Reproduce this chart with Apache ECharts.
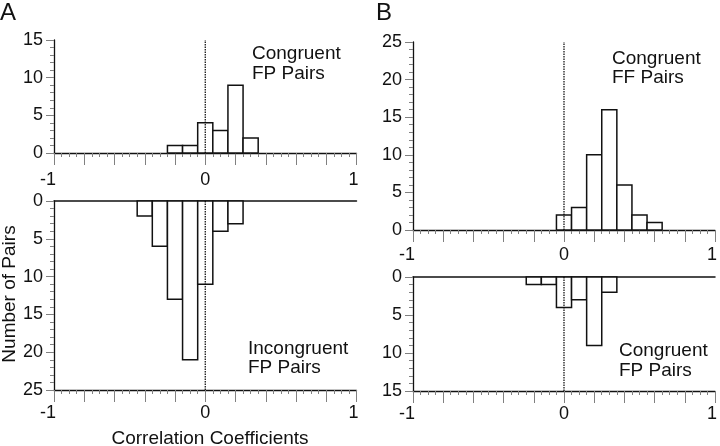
<!DOCTYPE html>
<html>
<head>
<meta charset="utf-8">
<script src="https://cdn.jsdelivr.net/npm/echarts@6/dist/echarts.min.js"></script>
<style>html,body{margin:0;padding:0;background:#fff;}#c{width:720px;height:446px;}</style>
</head>
<body>
<div id="c"></div>
<script>
// ---- data ----
const binWidth = 0.1;
const aTopCenters = [-0.2, -0.1, 0, 0.1, 0.2, 0.3];
const aTopCounts  = [1, 1, 4, 3, 9, 2];
const aBotCenters = [-0.4, -0.3, -0.2, -0.1, 0, 0.1, 0.2];
const aBotCounts  = [2, 6, 13, 21, 11, 4, 3];
const bTopCenters = [0, 0.1, 0.2, 0.3, 0.4, 0.5, 0.6];
const bTopCounts  = [2, 3, 10, 16, 6, 2, 1];
const bBotCenters = [-0.2, -0.1, 0, 0.1, 0.2, 0.3];
const bBotCounts  = [1, 1, 4, 3, 9, 2];
const xTickLabels = [-1, 0, 1];
const yMaxAtop = 15, yMaxAbot = 25, yMaxBtop = 25, yMaxBbot = 15;
const panelLetters = ['A', 'B'];
const labelsAtop = ['Congruent', 'FP Pairs'];
const labelsAbot = ['Incongruent', 'FP Pairs'];
const labelsBtop = ['Congruent', 'FF Pairs'];
const labelsBbot = ['Congruent', 'FP Pairs'];
const xTitle = 'Correlation Coefficients';
const yTitle = 'Number of Pairs';

// ---- styling ----
const FONT = "'Liberation Sans', Arial, sans-serif";
const INK = '#111';
const TICK = '#808080';

const chart = echarts.init(document.getElementById('c'), null, {renderer: 'canvas'});

function zip(a, b) { return a.map((v, i) => [v, b[i]]); }

function renderBar(params, api) {
  const c = api.value(0), v = api.value(1);
  const p1 = api.coord([c - binWidth / 2, 0]);
  const p2 = api.coord([c + binWidth / 2, v]);
  return {
    type: 'rect',
    shape: {
      x: Math.min(p1[0], p2[0]), y: Math.min(p1[1], p2[1]),
      width: Math.abs(p2[0] - p1[0]), height: Math.abs(p2[1] - p1[1])
    },
    style: {fill: '#fff', stroke: INK, lineWidth: 1.5}
  };
}

function xFmt(v) {
  const r = Math.round(v);
  if (Math.abs(v - r) > 1e-6) return '';
  if (!xTickLabels.includes(r)) return '';
  if (r === -1) return '{m|-1}';
  if (r === 1) return '{p|1}';
  return String(r === 0 ? 0 : r);
}

function mainX(grid, margin) {
  return {
    type: 'value', gridIndex: grid, min: -1, max: 1, interval: 0.2, position: 'bottom',
    axisLine: {show: true, onZero: false, lineStyle: {color: INK, width: 1.3}},
    axisTick: {show: true, length: 12, lineStyle: {color: TICK, width: 1}},
    minorTick: {show: true, splitNumber: 4, length: 4, lineStyle: {color: TICK, width: 1}},
    splitLine: {show: false},
    axisLabel: {
      show: true, margin: margin, formatter: xFmt, color: INK, fontSize: 18, fontFamily: FONT,
      showMinLabel: true, showMaxLabel: true, hideOverlap: false,
      rich: {
        m: {fontSize: 18, fontFamily: FONT, color: INK, padding: [0, 12, 0, 0]},
        p: {fontSize: 18, fontFamily: FONT, color: INK, padding: [0, 6, 0, 0]}
      }
    }
  };
}
function topLineX(grid) {
  return {
    type: 'value', gridIndex: grid, min: -1, max: 1, position: 'top',
    axisLine: {show: true, onZero: false, lineStyle: {color: INK, width: 1.5}},
    axisTick: {show: false}, axisLabel: {show: false}, splitLine: {show: false}
  };
}
function yAx(grid, max, inverse) {
  return {
    type: 'value', gridIndex: grid, min: 0, max: max, interval: 5, inverse: inverse,
    axisLine: {show: true, onZero: false, lineStyle: {color: INK, width: 1.3}},
    axisTick: {show: true, length: 8, lineStyle: {color: TICK, width: 1}},
    minorTick: {show: true, splitNumber: 5, length: 4, lineStyle: {color: TICK, width: 1}},
    splitLine: {show: false},
    axisLabel: {show: true, margin: 11, color: INK, fontSize: 18, fontFamily: FONT}
  };
}
function hist(xi, yi, centers, counts) {
  return {
    type: 'custom', xAxisIndex: xi, yAxisIndex: yi, renderItem: renderBar,
    data: zip(centers, counts), z: 2, silent: true,
    encode: {x: 0, y: 1}
  };
}
function zeroLine(xi, yi, max) {
  return {
    type: 'line', xAxisIndex: xi, yAxisIndex: yi, data: [[0, 0], [0, max]],
    symbol: 'none', silent: true, z: 5,
    lineStyle: {type: [1.5, 1], color: '#000', width: 1.2}
  };
}
function txt(s, x, y, size, extra) {
  return Object.assign({
    type: 'text', x: x, y: y, silent: true,
    style: {text: s, fill: INK, font: size + 'px ' + FONT, textAlign: 'left', textVerticalAlign: 'middle'}
  }, extra || {});
}

const option = {
  backgroundColor: '#fff',
  animation: false,
  grid: [
    {left: 54, top: 40, width: 302.5, height: 113},
    {left: 54, top: 201, width: 302.5, height: 189},
    {left: 413, top: 42, width: 302.5, height: 188},
    {left: 413, top: 277, width: 302.5, height: 114}
  ],
  xAxis: [mainX(0, 18), mainX(1, 14), topLineX(1), mainX(2, 16), mainX(3, 14), topLineX(3)],
  yAxis: [yAx(0, yMaxAtop, false), yAx(1, yMaxAbot, true), yAx(2, yMaxBtop, false), yAx(3, yMaxBbot, true)],
  series: [
    hist(0, 0, aTopCenters, aTopCounts),
    zeroLine(0, 0, yMaxAtop),
    hist(1, 1, aBotCenters, aBotCounts),
    zeroLine(1, 1, yMaxAbot),
    hist(3, 2, bTopCenters, bTopCounts),
    zeroLine(3, 2, yMaxBtop),
    hist(4, 3, bBotCenters, bBotCounts),
    zeroLine(4, 3, yMaxBbot)
  ],
  graphic: [
    txt(panelLetters[0], 0, 13, 24),
    txt(panelLetters[1], 376, 13, 24),
    txt(labelsAtop[0], 252, 54, 19),
    txt(labelsAtop[1], 252, 74, 19),
    txt(labelsAbot[0], 248, 349, 19),
    txt(labelsAbot[1], 248, 368, 19),
    txt(labelsBtop[0], 612, 59, 19),
    txt(labelsBtop[1], 612, 78, 19),
    txt(labelsBbot[0], 619, 351, 19),
    txt(labelsBbot[1], 619, 371, 19),
    {type: 'text', x: 210, y: 439, silent: true,
     style: {text: xTitle, fill: INK, font: '19px ' + FONT, textAlign: 'center', textVerticalAlign: 'middle'}},
    {type: 'text', x: 10, y: 294, rotation: Math.PI / 2, silent: true,
     style: {text: yTitle, fill: INK, font: '19px ' + FONT, textAlign: 'center', textVerticalAlign: 'middle'}}
  ]
};
chart.setOption(option);
</script>
</body>
</html>
